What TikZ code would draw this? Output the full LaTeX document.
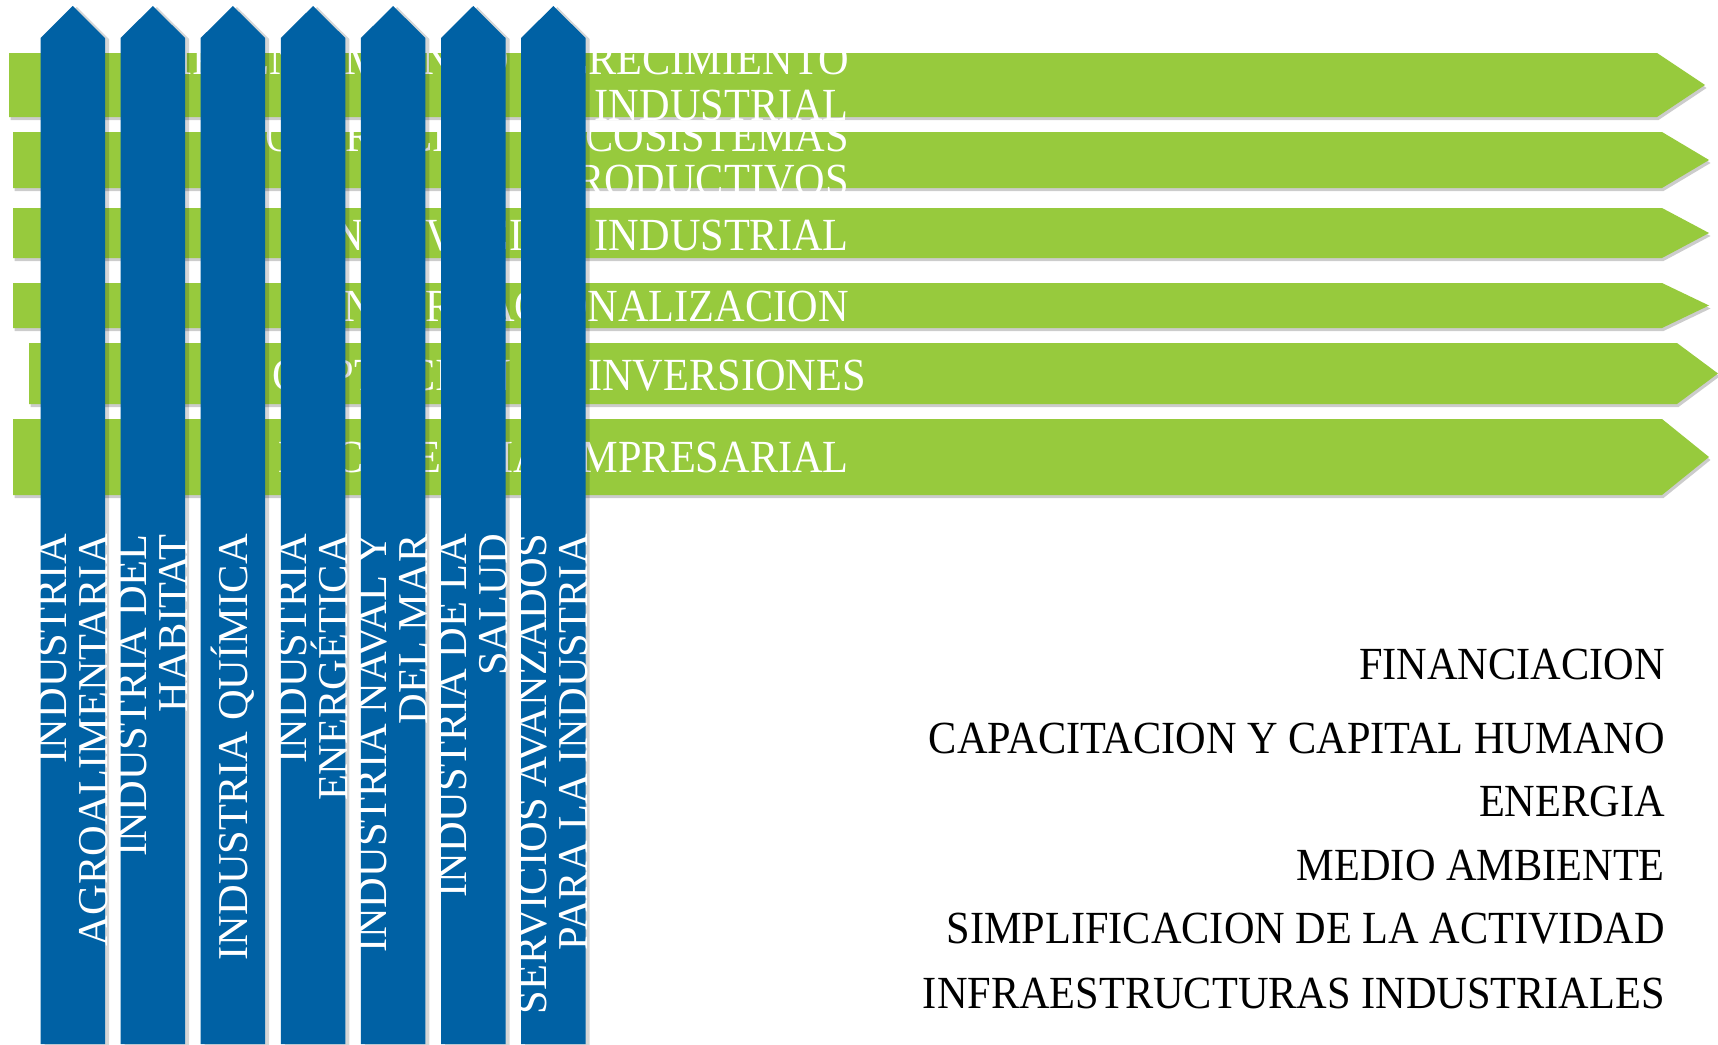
\documentclass[tikz,border=0pt]{standalone}
\usepackage{fontspec}
\setmainfont{Liberation Serif}
\newfontfamily\condfont[FakeStretch=0.92]{Liberation Serif}
\usetikzlibrary{shadows}
\definecolor{pgreen}{RGB}{151,202,61}
\definecolor{pblue}{RGB}{0,97,164}
\tikzset{
  garrow/.style={fill=pgreen, drop shadow={shadow xshift=1.5pt, shadow yshift=-3pt, opacity=0.2, fill=black}},
  barrow/.style={fill=pblue, drop shadow={shadow xshift=4pt, shadow yshift=-1pt, opacity=0.16, fill=black}},
  gtext/.style={text=white, font=\condfont\fontsize{46}{46}\selectfont, align=right, inner sep=0pt, anchor=base east},
  btext/.style={text=white, font=\fontsize{42.5}{41}\selectfont, align=right, inner sep=0pt, rotate=90, anchor=east},
  rtext/.style={text=black, font=\condfont\fontsize{46}{46}\selectfont, inner sep=0pt, anchor=base east},
}
\newcommand{\greenarrow}[5]{%
  \fill[garrow] (#1,#2) -- (#4,#2) -- (#5,{(#2+#3)/2}) -- (#4,#3) -- (#1,#3) -- cycle;}
\newcommand{\bluebar}[1]{%
  \fill[barrow] (#1,1044) -- (#1,38) -- ({#1+32.25},6) -- ({#1+64.5},38) -- ({#1+64.5},1044) -- cycle;}
\begin{document}
\begin{tikzpicture}[x=1pt,y=-1pt]
\useasboundingbox (0,0) rectangle (1718,1044);
\fill[white] (0,0) rectangle (1718,1044);
% green horizontal arrows
\greenarrow{9}{53}{117}{1657}{1705}
\greenarrow{13}{132}{188}{1662}{1709}
\greenarrow{13}{208}{258}{1662}{1709}
\greenarrow{13}{283}{328}{1662}{1709}
\greenarrow{29}{343}{404}{1677}{1718}
\greenarrow{13}{419}{495}{1662}{1709}
% green texts (base anchor = baseline of last line)
\node[gtext, font=\condfont\fontsize{46}{46}\selectfont] (g1t) at (849,120.5) {EMPRENDIMIENTO Y CRECIMIENTO\\INDUSTRIAL};
\node[gtext, font=\condfont\fontsize{46}{44}\selectfont] (g2t) at (849,195) {COOPERACION Y ECOSISTEMAS\\PRODUCTIVOS};
\node[gtext] (g3t) at (849,250) {INNOVACION INDUSTRIAL};
\node[gtext] (g4t) at (849,321) {INTERNACIONALIZACION};
\node[gtext] (g5t) at (866,390) {CAPTACION DE INVERSIONES};
\node[gtext] (g6t) at (849,472) {EXCELENCIA EMPRESARIAL};
% blue vertical arrows
\foreach \i in {0,...,6}{\pgfmathsetmacro{\bl}{40.5+80.1*\i}\bluebar{\bl}}
% vertical texts
\node[btext] (b1t) at (72.75,534) {INDUSTRIA\\AGROALIMENTARIA};
\node[btext] (b2t) at (152.85,534) {INDUSTRIA DEL\\HABITAT};
\node[btext] (b3t) at (232.95,534) {INDUSTRIA QUÍMICA};
\node[btext] (b4t) at (313.05,534) {INDUSTRIA\\ENERGÉTICA};
\node[btext] (b5t) at (393.15,534) {INDUSTRIA NAVAL Y\\DEL MAR};
\node[btext] (b6t) at (473.25,534) {INDUSTRIA DE LA\\SALUD};
\node[btext] (b7t) at (553.35,534) {SERVICIOS AVANZADOS\\PARA LA INDUSTRIA};
% right column
\node[rtext] (r1) at (1665,679) {FINANCIACION};
\node[rtext] (r2) at (1665,753) {CAPACITACION Y CAPITAL HUMANO};
\node[rtext] (r3) at (1665,816) {ENERGIA};
\node[rtext] (r4) at (1665,880) {MEDIO AMBIENTE};
\node[rtext] (r5) at (1665,943) {SIMPLIFICACION DE LA ACTIVIDAD};
\node[rtext] (r6) at (1665,1008) {INFRAESTRUCTURAS INDUSTRIALES};
\end{tikzpicture}
\end{document}
